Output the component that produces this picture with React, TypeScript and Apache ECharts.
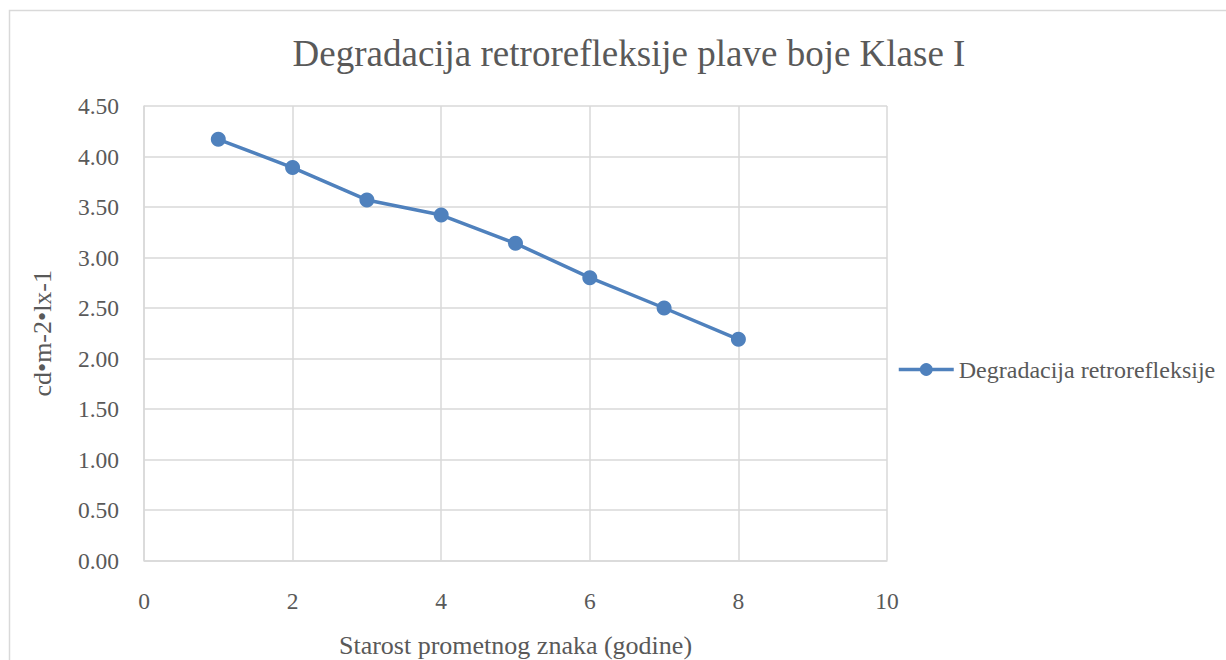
import React, { useEffect, useRef } from "react";
import * as echarts from "echarts";

const titleText = "Degradacija retrorefleksije plave boje Klase I";
const seriesName = "Degradacija retrorefleksije";
const xAxisName = "Starost prometnog znaka (godine)";
const yAxisName = "cd•m-2•lx-1";
const years = [1, 2, 3, 4, 5, 6, 7, 8];
const values = [4.17, 3.89, 3.57, 3.42, 3.14, 2.8, 2.5, 2.19];

const FONT = "'Liberation Serif', 'Times New Roman', serif";
const TEXT = "#595959";
const GRID = "#d9d9d9";
const BLUE = "#4F81BD";

export default function App() {
  const ref = useRef<HTMLDivElement>(null);
  useEffect(() => {
    if (!ref.current) return;
    const chart = echarts.init(ref.current, null, { renderer: "svg" });
    chart.setOption({
      animation: false,
      backgroundColor: "#ffffff",
      graphic: [
        {
          type: "rect",
          shape: { x: 9.5, y: 10.5, width: 1230, height: 700 },
          style: { fill: "none", stroke: GRID, lineWidth: 1.5 },
          silent: true,
        },
      ],
      title: {
        text: titleText,
        left: 624,
        textAlign: "center",
        top: 30,
        textStyle: { fontFamily: FONT, fontSize: 37, fontWeight: "normal", color: TEXT },
      },
      legend: {
        data: [seriesName],
        left: 897,
        top: 357,
        padding: 0,
        itemWidth: 55,
        itemHeight: 16,
        lineStyle: { width: 3.5 },
        textStyle: { fontFamily: FONT, fontSize: 24, color: TEXT, lineHeight: 25 },
      },
      grid: {
        left: 144,
        top: 106,
        width: 743,
        height: 454.5,
        containLabel: false,
        outerBoundsMode: "none",
      },
      xAxis: {
        type: "value",
        min: 0,
        max: 10,
        interval: 2,
        name: xAxisName,
        nameLocation: "middle",
        nameGap: 71,
        nameTextStyle: { fontFamily: FONT, fontSize: 26, color: TEXT, lineHeight: 27 },
        axisLine: { show: true, lineStyle: { color: GRID, width: 1.5 } },
        axisTick: { show: false },
        axisLabel: { fontFamily: FONT, fontSize: 23.5, color: TEXT, margin: 28 },
        splitLine: { show: true, lineStyle: { color: GRID, width: 1.5 } },
      },
      yAxis: {
        type: "value",
        min: 0,
        max: 4.5,
        interval: 0.5,
        name: yAxisName,
        nameLocation: "middle",
        nameGap: 89,
        nameRotate: 90,
        nameTextStyle: { fontFamily: FONT, fontSize: 26, color: TEXT },
        axisLine: { show: true, lineStyle: { color: GRID, width: 1.5 } },
        axisTick: { show: false },
        axisLabel: {
          fontFamily: FONT,
          fontSize: 23.5,
          color: TEXT,
          margin: 25,
          formatter: (v: number) => v.toFixed(2),
        },
        splitLine: { show: true, lineStyle: { color: GRID, width: 1.5 } },
      },
      series: [
        {
          name: seriesName,
          type: "line",
          data: years.map((x, i) => [x, values[i]]),
          symbol: "circle",
          symbolSize: 15,
          showSymbol: true,
          lineStyle: { color: BLUE, width: 3.5 },
          itemStyle: { color: BLUE },
        },
      ],
    });
    return () => chart.dispose();
  }, []);
  return (
    <div
      ref={ref}
      style={{ position: "fixed", left: 0, top: 0, width: 1226, height: 660, background: "#fff" }}
    />
  );
}
